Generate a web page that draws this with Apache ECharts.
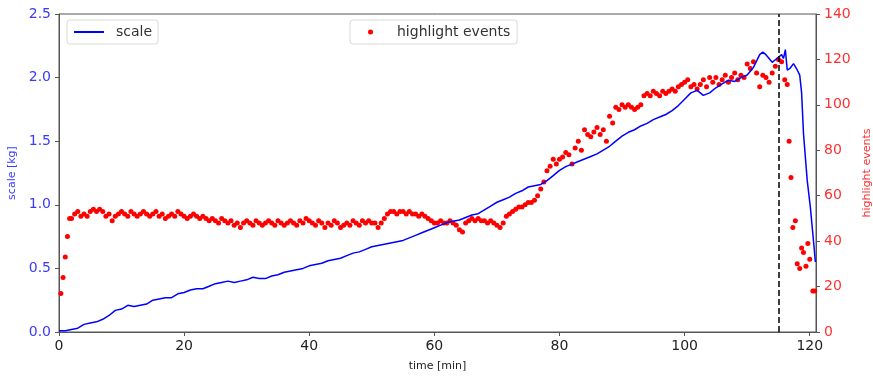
<!DOCTYPE html>
<html>
<head>
<meta charset="utf-8">
<script src="https://cdn.jsdelivr.net/npm/echarts@6/dist/echarts.min.js"></script>
<style>
  html, body { margin: 0; padding: 0; background: #fff; }
  #chart { width: 873px; height: 378px; }
</style>
</head>
<body>
<div id="chart"></div>
<script>
const xTicks = [0, 20, 40, 60, 80, 100, 120]
const markerTime = 115

// scale [kg], one reading per minute from t = 0 to t = 112
const scaleValues = [
  0.01, 0.01, 0.02, 0.03, 0.06, 0.07, 0.08, 0.10, 0.13, 0.17,
  0.18, 0.21, 0.20, 0.21, 0.22, 0.25, 0.26, 0.27, 0.27, 0.30,
  0.31, 0.33, 0.34, 0.34, 0.36, 0.38, 0.39, 0.40, 0.39, 0.40,
  0.41, 0.43, 0.42, 0.42, 0.44, 0.45, 0.47, 0.48, 0.49, 0.50,
  0.52, 0.53, 0.54, 0.56, 0.57, 0.58, 0.60, 0.62, 0.63, 0.65,
  0.67, 0.68, 0.69, 0.70, 0.71, 0.72, 0.74, 0.76, 0.78, 0.80,
  0.82, 0.84, 0.86, 0.87, 0.88, 0.90, 0.92, 0.93, 0.96, 0.99,
  1.02, 1.04, 1.06, 1.09, 1.11, 1.14, 1.15, 1.16, 1.19, 1.23,
  1.27, 1.30, 1.32, 1.34, 1.36, 1.38, 1.40, 1.43, 1.46, 1.50,
  1.54, 1.57, 1.59, 1.62, 1.64, 1.67, 1.69, 1.71, 1.74, 1.78,
  1.83, 1.88, 1.90, 1.86, 1.88, 1.92, 1.95, 1.98, 1.97, 2.00,
  2.02, 2.08, 2.18
]
// end of the run, [time, kg]
const scaleTail = [
  [112.5, 2.20], [113, 2.18], [113.5, 2.15], [114, 2.12], [114.5, 2.14],
  [115, 2.16], [115.5, 2.18], [115.8, 2.15], [116.1, 2.22], [116.4, 2.06],
  [116.8, 2.07], [117.4, 2.11], [118, 2.06], [118.4, 2.02], [118.7, 1.88],
  [119, 1.56], [119.6, 1.19], [120.1, 0.98], [120.5, 0.77], [120.9, 0.55]
]

// highlight events: start-up ramp, then every 0.5 min from t = 2, then the drop
const eventHead = [[0.3, 17], [0.65, 24], [1.0, 33], [1.35, 42], [1.7, 50]]
const eventStart = 2
const eventStep = 0.5
const eventValues = [
  50, 52, 53, 51, 52, 51, 53, 54, 53, 54, 53, 51, 52, 49, 51, 52,
  53, 52, 51, 53, 52, 51, 52, 53, 52, 51, 52, 53, 51, 52, 50, 51, 52, 51, 53, 52,
  51, 50, 51, 52, 51, 50, 51, 50, 49, 50, 49, 48, 50, 49, 48, 49, 47, 48, 46, 48,
  49, 48, 47, 49, 48, 47, 48, 49, 48, 47, 49, 48, 47, 48, 49, 48, 47, 49, 48, 50,
  49, 48, 47, 49, 48, 46, 48, 47, 49, 48, 46, 47, 48, 47, 49, 48, 47, 49, 48, 49,
  48, 48, 46, 48, 50, 52, 53, 53, 52, 53, 53, 52, 53, 52, 52, 51, 52, 51, 50, 49,
  48, 48, 49, 48, 48, 49, 48, 47, 45, 44, 48, 49, 50, 49, 50, 49, 49, 48, 49, 48,
  47, 46, 48, 51, 52, 53, 54, 55, 55, 56, 57, 57, 58, 60, 63, 66, 71, 73, 76, 74,
  76, 77, 79, 78, 74, 81, 84, 80, 89, 87, 86, 88, 90, 87, 89, 84, 95, 92, 99, 98,
  100, 99, 100, 99, 98, 99, 100, 104, 105, 104, 106, 105, 104, 106, 105, 106, 107, 106, 108, 109,
  110, 111, 108, 109, 107, 109, 111, 108, 112, 110, 112, 109, 111, 113, 110, 112, 114, 111, 113, 112,
  118, 116, 119, 114, 108, 113, 112, 110, 114, 117, 120, 119
]
const eventTail = [
  [116.0, 111], [116.4, 109], [116.7, 84], [117.0, 68], [117.3, 46],
  [117.7, 49], [118.0, 30], [118.4, 28], [118.7, 37], [119.0, 35],
  [119.4, 29], [119.7, 39], [120.0, 32], [120.5, 18], [120.8, 18]
]

const scaleData = scaleValues.map((v, i) => [i, v]).concat(scaleTail)
const eventData = eventHead
  .concat(eventValues.map((v, i) => [eventStart + i * eventStep, v]))
  .concat(eventTail)

const fontFamily = 'DejaVu Sans'
const spine = '#555'
const blue = '#0000ff'
const red = '#ff0000'

const legendBox = {
  top: 20,
  orient: 'horizontal',
  borderColor: '#d9d9d9',
  borderWidth: 1,
  borderRadius: 3,
  backgroundColor: 'rgba(255,255,255,0.8)',
  selectedMode: false,
}

const option = {
  animation: false,
  backgroundColor: '#fff',
  grid: {
    left: 59,
    right: 57,
    top: 14,
    bottom: 46,
    outerBoundsMode: 'none',
    show: true,
    borderColor: spine,
    borderWidth: 1,
  },
  legend: [
    {
      ...legendBox,
      left: 67,
      padding: [5, 6, 5, 7],
      data: [{ name: 'scale', icon: 'rect' }],
      itemWidth: 30,
      itemHeight: 2,
      textStyle: { fontFamily, fontSize: 14, color: '#333', padding: [0, 0, 0, 7] },
    },
    {
      ...legendBox,
      left: 350,
      padding: [5, 7, 5, 18],
      data: [{ name: 'highlight events', icon: 'circle' }],
      itemWidth: 25,
      itemHeight: 5,
      textStyle: { fontFamily, fontSize: 14, color: '#333', padding: [0, 0, 0, 9] },
    },
  ],
  xAxis: {
    type: 'value',
    min: 0,
    max: 121,
    name: 'time [min]',
    nameLocation: 'middle',
    nameGap: 29,
    nameTextStyle: { fontFamily, fontSize: 11, color: '#222' },
    axisLine: { lineStyle: { color: spine } },
    axisTick: { length: 4, lineStyle: { color: spine }, customValues: xTicks },
    axisLabel: { fontFamily, fontSize: 14, color: '#222', margin: 7, customValues: xTicks },
    splitLine: { show: false },
  },
  yAxis: [
    {
      type: 'value',
      position: 'left',
      min: 0,
      max: 2.5,
      interval: 0.5,
      name: 'scale [kg]',
      nameLocation: 'middle',
      nameRotate: 90,
      nameGap: 30,
      nameTextStyle: { fontFamily, fontSize: 11, color: '#3a3aff' },
      axisLine: { show: true, lineStyle: { color: spine } },
      axisTick: { show: true, length: 4, lineStyle: { color: spine } },
      axisLabel: {
        fontFamily,
        fontSize: 14,
        color: '#3a3aff',
        margin: 8,
        formatter: (v) => v.toFixed(1),
      },
      splitLine: { show: false },
    },
    {
      type: 'value',
      position: 'right',
      min: 0,
      max: 140,
      interval: 20,
      name: 'highlight events',
      nameLocation: 'middle',
      nameRotate: 90,
      nameGap: 40,
      nameTextStyle: { fontFamily, fontSize: 11, color: '#ff3030' },
      axisLine: { show: true, lineStyle: { color: spine } },
      axisTick: { show: true, length: 4, lineStyle: { color: spine } },
      axisLabel: { fontFamily, fontSize: 14, color: '#ff3030', margin: 8 },
      splitLine: { show: false },
    },
  ],
  series: [
    {
      name: 'scale',
      type: 'line',
      yAxisIndex: 0,
      data: scaleData,
      symbol: 'none',
      color: blue,
      lineStyle: { width: 1.5, color: blue },
      emphasis: { disabled: true },
    },
    {
      name: 'highlight events',
      type: 'scatter',
      yAxisIndex: 1,
      data: eventData,
      symbol: 'circle',
      symbolSize: 5,
      color: red,
      itemStyle: { color: red, opacity: 1 },
      emphasis: { disabled: true },
      markLine: {
        silent: true,
        symbol: ['none', 'none'],
        label: { show: false },
        lineStyle: { color: '#000', type: [6, 3], width: 1.5 },
        data: [{ xAxis: markerTime }],
      },
    },
  ],
}

const myChart = echarts.init(document.getElementById('chart'), null, { renderer: 'canvas' })
myChart.setOption(option)
</script>
</body>
</html>
